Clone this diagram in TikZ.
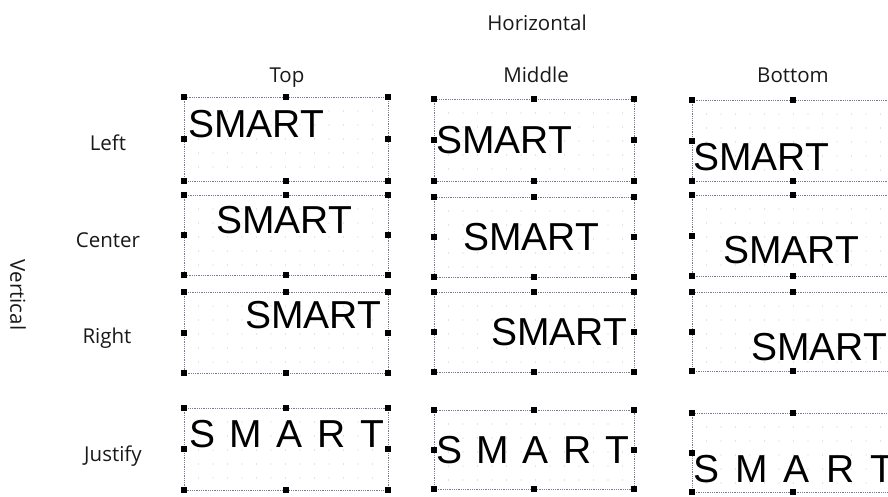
\documentclass[tikz,border=0pt]{standalone}
\usepackage{fontspec}
\setmainfont{Open Sans}
\newfontfamily\arialfont{Liberation Sans}
\definecolor{framecol}{RGB}{120,124,150}
\tikzset{
  lbl/.style={font=\fontsize{20.5}{24}\selectfont, text=black!90, inner sep=0, anchor=base},
  smart/.style={font=\arialfont\fontsize{39}{40}\selectfont, inner sep=0, anchor=base west},
  frame/.style={draw=framecol, densely dotted, line width=0.8pt},
  handle/.style={fill=black, minimum size=6pt, inner sep=0, draw=none, rectangle},
  griddot/.style={fill=gray!40},
}
\newcommand\panelbox[5]{%
  \foreach \i in {1,...,13}{\foreach \j in {1,...,5}{%
    \fill[griddot] ({#2+14.5*\i},{#3+14*\j}) circle (0.7);}}%
  \draw[frame] (#2,#3) rectangle (#4,#5);
  \coordinate (#1) at ({(#2+#4)/2},{(#3+#5)/2});
  \node[handle] (#1-a) at (#2,#3) {};
  \node[handle] (#1-b) at ({(#2+#4)/2},#3) {};
  \node[handle] (#1-c) at (#4,#3) {};
  \node[handle] (#1-d) at (#2,{(#3+#5)/2}) {};
  \node[handle] (#1-e) at (#4,{(#3+#5)/2}) {};
  \node[handle] (#1-f) at (#2,#5) {};
  \node[handle] (#1-g) at ({(#2+#4)/2},#5) {};
  \node[handle] (#1-h) at (#4,#5) {};
}
\begin{document}
\begin{tikzpicture}[x=1pt,y=-1pt]
\useasboundingbox (0,0) rectangle (888,496);
\clip (0,0) rectangle (888,496);
\fill[white] (0,0) rectangle (888,496);

% labels
\node[lbl] (hz) at (537,30) {Horizontal};
\node[lbl] (ctop) at (287,82) {Top};
\node[lbl] (cmid) at (536,82) {Middle};
\node[lbl] (cbot) at (793,82) {Bottom};
\node[lbl] (rleft) at (108,150) {Left};
\node[lbl] (rcenter) at (108,247) {Center};
\node[lbl] (rright) at (107,343) {Right};
\node[lbl] (rjust) at (113,461) {Justify};
\node[lbl, anchor=center, rotate=-90] (vt) at (18,295) {Vertical};

% column 1
\panelbox{b11}{184}{97}{388}{181}
\panelbox{b12}{184}{195}{388}{275}
\panelbox{b13}{184}{292}{388}{373}
\panelbox{b14}{184}{408}{388}{490}
% column 2
\panelbox{b21}{434}{99}{634}{181}
\panelbox{b22}{434}{197}{634}{277}
\panelbox{b23}{434}{292}{634}{372}
\panelbox{b24}{434}{410}{634}{489}
% column 3
\panelbox{b31}{692}{100}{894}{181}
\panelbox{b32}{692}{195}{894}{276}
\panelbox{b33}{692}{292}{894}{371}
\panelbox{b34}{692}{413}{894}{492}

% texts
\node[smart] (t11) at (188,137) {SMART};
\node[smart] (t12) at (216,233) {SMART};
\node[smart] (t13) at (245,328) {SMART};
\node[smart] (t14) at (189,447) {\makebox[195pt][s]{S\hfill M\hfill A\hfill R\hfill T}};

\node[smart] (t21) at (436,153) {SMART};
\node[smart] (t22) at (463,250) {SMART};
\node[smart] (t23) at (491,345) {SMART};
\node[smart] (t24) at (436,463) {\makebox[193pt][s]{S\hfill M\hfill A\hfill R\hfill T}};

\node[smart] (t31) at (693,170) {SMART};
\node[smart] (t32) at (723,263) {SMART};
\node[smart] (t33) at (751,360) {SMART};
\node[smart] (t34) at (693,482) {\makebox[201pt][s]{S\hfill M\hfill A\hfill R\hfill T}};
\end{tikzpicture}
\end{document}
